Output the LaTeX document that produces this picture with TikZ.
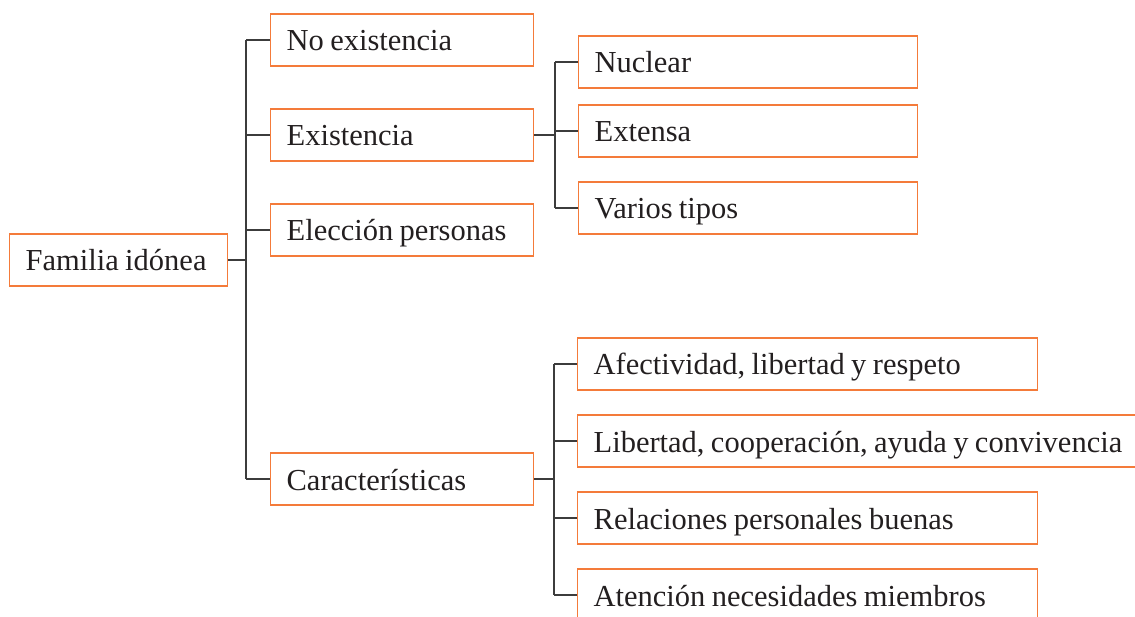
\documentclass[tikz,border=0pt]{standalone}
\usepackage{fontspec}
\setmainfont{Liberation Serif}
\definecolor{boxorange}{HTML}{F47B3A}
\definecolor{linegray}{HTML}{3C3C3C}
\definecolor{txtgray}{HTML}{231F20}
\newcommand\boxtxt[1]{\makebox[0pt][l]{\spaceskip=6.4pt plus 1.5pt minus 0.5pt\relax #1}}
\tikzset{
  tbox/.style={draw=boxorange, line width=1.3pt, anchor=west, minimum height=52pt,
    inner xsep=16pt, inner ysep=0pt, text height=28pt, text depth=6pt, align=left,
    text=txtgray, font=\fontsize{30.5pt}{36pt}\selectfont},
  conn/.style={draw=linegray, line width=1.3pt}
}
\begin{document}
\begin{tikzpicture}[x=1pt,y=-1pt]
\useasboundingbox (0,0) rectangle (1135,617);
\clip (0,0) rectangle (1135,617);
% root
\node[tbox, text width=186pt] (fam) at (9,260) {\boxtxt{Familia idónea}};
% level 1
\node[tbox, text width=231pt] (noex) at (270,40) {\boxtxt{No existencia}};
\node[tbox, text width=231pt] (ex) at (270,135) {\boxtxt{Existencia}};
\node[tbox, text width=231pt] (elec) at (270,230) {\boxtxt{Elección personas}};
\node[tbox, text width=231pt] (car) at (270,479) {\boxtxt{Características}};
% level 2 (existencia)
\node[tbox, text width=307pt] (nuc) at (578,62) {\boxtxt{Nuclear}};
\node[tbox, text width=307pt] (ext) at (578,131) {\boxtxt{Extensa}};
\node[tbox, text width=307pt] (var) at (578,208) {\boxtxt{Varios tipos}};
% level 2 (caracteristicas)
\node[tbox, text width=428pt] (afe) at (577,364) {\boxtxt{Afectividad, libertad y respeto}};
\node[tbox, text width=541pt] (lib) at (577,441) {\boxtxt{Libertad, cooperación, ayuda y convivencia}};
\node[tbox, text width=428pt] (rel) at (577,518) {\boxtxt{Relaciones personales buenas}};
\node[tbox, text width=428pt] (ate) at (577,595) {\boxtxt{Atención necesidades miembros}};
% connectors
\coordinate (t1) at (246,260);
\coordinate (t2) at (555,135);
\coordinate (t3) at (554,479);
\draw[conn] (fam.east) -- (t1);
\draw[conn] (t1 |- noex.west) -- (t1 |- car.west);
\foreach \n in {noex,ex,elec,car} \draw[conn] (t1 |- \n.west) -- (\n.west);
\draw[conn] (ex.east) -- (t2);
\draw[conn] (t2 |- nuc.west) -- (t2 |- var.west);
\foreach \n in {nuc,ext,var} \draw[conn] (t2 |- \n.west) -- (\n.west);
\draw[conn] (car.east) -- (t3);
\draw[conn] (t3 |- afe.west) -- (t3 |- ate.west);
\foreach \n in {afe,lib,rel,ate} \draw[conn] (t3 |- \n.west) -- (\n.west);
\end{tikzpicture}
\end{document}
